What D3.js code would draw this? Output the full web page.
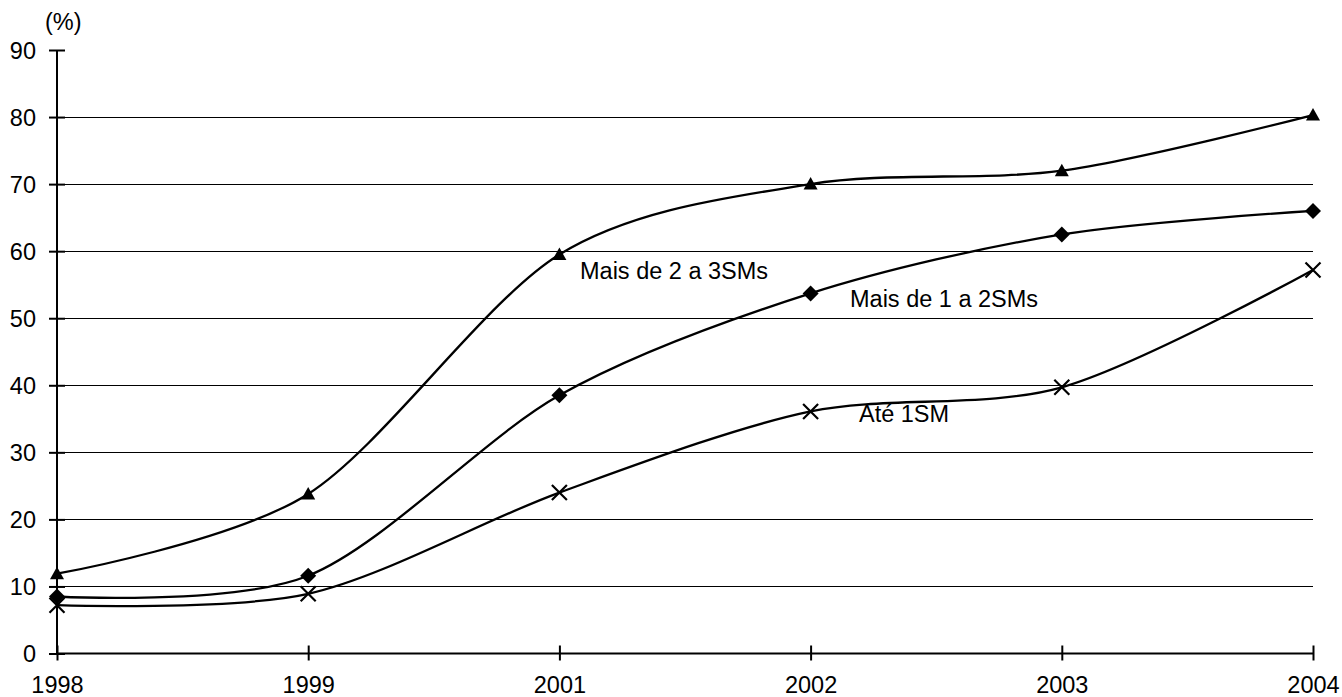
<!DOCTYPE html>
<html><head><meta charset="utf-8">
<script src="https://cdn.jsdelivr.net/npm/d3@7"></script>
<style>body{margin:0;background:#fff;} text{font-family:"Liberation Sans",Arial,sans-serif;font-size:23.5px;fill:#000;}</style>
</head><body>
<svg id="c" width="1342" height="697"></svg>
<script>
const categories = ["1998","1999","2001","2002","2003","2004"];
const yTicks = [0,10,20,30,40,50,60,70,80,90];
const serie23 = [11.9, 23.8, 59.5, 70.0, 72.0, 80.3];
const serie12 = [8.5, 11.6, 38.5, 53.7, 62.5, 66.0];
const serieAte1 = [7.2, 8.9, 24.0, 36.1, 39.7, 57.2];
const seriesNames = ["Mais de 2 a 3SMs","Mais de 1 a 2SMs","Até 1SM"];

const svg = d3.select("#c");
const x = d3.scalePoint().domain(categories).range([57,1313]);
const y = d3.scaleLinear().domain([0,90]).range([653.5,50]);

// gridlines
svg.append("g").selectAll("line").data(yTicks.filter(t=>t>0 && t<90)).join("line")
  .attr("x1",x(categories[0])).attr("x2",x(categories[categories.length-1]))
  .attr("y1",d=>Math.round(y(d))+0.5).attr("y2",d=>Math.round(y(d))+0.5)
  .attr("stroke","#000").attr("stroke-width",1);

// y axis
const ya = svg.append("g").attr("transform",`translate(${x(categories[0])},0)`)
  .call(d3.axisLeft(y).tickValues(yTicks).tickSize(7).tickPadding(14));
ya.select(".domain").attr("stroke-width",2).attr("d",`M0,${y(90)}V${y(0)}`);
ya.selectAll(".tick line").attr("x1",-8).attr("x2",8).attr("stroke-width",2);
ya.selectAll(".tick text").attr("font-size",23.5).attr("font-family","Liberation Sans, Arial, sans-serif").attr("dy","0.36em");

// x axis
const xa = svg.append("g").attr("transform",`translate(0,${y(0)})`)
  .call(d3.axisBottom(x).tickSize(7).tickPadding(16));
xa.select(".domain").attr("stroke-width",2).attr("d",`M${x(categories[0])},0H${x(categories[5])}`);
xa.selectAll(".tick line").attr("y1",-8).attr("y2",7).attr("stroke-width",2);
xa.selectAll(".tick text").attr("font-size",23.5).attr("font-family","Liberation Sans, Arial, sans-serif").attr("dy","0.71em");

svg.append("text").attr("x",45).attr("y",30).text("(%)");

const line = d3.line().x((d,i)=>x(categories[i])).y(d=>y(d)).curve(d3.curveCardinal.tension(0.1));
const all = [serie23, serie12, serieAte1];
all.forEach(s=>{
  svg.append("path").attr("d",line(s)).attr("fill","none").attr("stroke","#000").attr("stroke-width",2.3);
});

// markers
svg.append("g").selectAll("path").data(serie23).join("path")
  .attr("transform",(d,i)=>`translate(${x(categories[i])},${y(d)})`)
  .attr("d","M0,-7L7,5.5L-7,5.5Z").attr("fill","#000");
svg.append("g").selectAll("path").data(serie12).join("path")
  .attr("transform",(d,i)=>`translate(${x(categories[i])},${y(d)})`)
  .attr("d","M0,-8L8,0L0,8L-8,0Z").attr("fill","#000");
svg.append("g").selectAll("path").data(serieAte1).join("path")
  .attr("transform",(d,i)=>`translate(${x(categories[i])},${y(d)})`)
  .attr("d","M-7.5,-7.5L7.5,7.5M-7.5,7.5L7.5,-7.5").attr("stroke","#000").attr("stroke-width",2.2).attr("fill","none");

// labels
const labelPos = [[580,279],[850,307],[859,422]];
seriesNames.forEach((n,i)=>{
  svg.append("text").attr("x",labelPos[i][0]).attr("y",labelPos[i][1]).text(n);
});
</script>
</body></html>
